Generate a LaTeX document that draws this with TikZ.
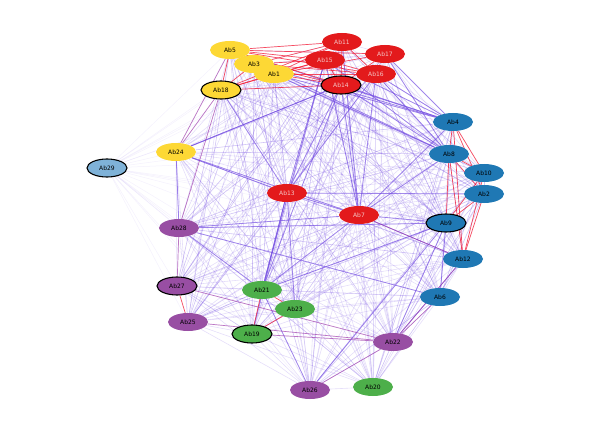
\documentclass[tikz,border=0pt]{standalone}
\usepackage{fontspec}
\setmainfont{DejaVu Sans}
\usetikzlibrary{shapes.geometric,backgrounds}
\definecolor{cyel}{HTML}{FDD835}
\definecolor{cred}{HTML}{E31A1C}
\definecolor{cblu}{HTML}{1F78B4}
\definecolor{cpur}{HTML}{984EA3}
\definecolor{cgrn}{HTML}{4DAF4A}
\definecolor{clbl}{HTML}{7FB2D8}
\definecolor{edgep}{HTML}{7048E0}
\definecolor{edger}{HTML}{FF1020}
\definecolor{edgem}{HTML}{A030A0}
\definecolor{redtxt}{HTML}{F4C6C6}
\tikzset{
  ab/.style={ellipse,minimum width=40pt,minimum height=18pt,inner sep=0pt,
    font=\fontsize{6}{7}\selectfont},
  ny/.style={ab,fill=cyel},
  nr/.style={ab,fill=cred,text=redtxt},
  nb/.style={ab,fill=cblu},
  np/.style={ab,fill=cpur},
  ng/.style={ab,fill=cgrn},
  nl/.style={ab,fill=clbl},
  hl/.style={draw=black,line width=1.1pt},
  faint/.style={draw=edgep,line width=0.6pt,opacity=0.18},
  medium/.style={draw=edgep,line width=0.6pt,opacity=0.32},
  vfaint/.style={draw=edgep,line width=0.5pt,opacity=0.08},
  strong/.style={draw=edgep,line width=0.8pt,opacity=0.6},
  redge/.style={draw=edger,line width=0.7pt,opacity=0.7},
  medge/.style={draw=edgem,line width=0.7pt,opacity=0.6},
}
\begin{document}
\begin{tikzpicture}[x=1pt,y=-1pt]
\useasboundingbox (0,0) rectangle (590,428);
% nodes
\node[ny] (Ab5) at (230,50) {Ab5};
\node[ny] (Ab3) at (254,64) {Ab3};
\node[ny] (Ab1) at (274,74) {Ab1};
\node[ny,hl] (Ab18) at (221,90) {Ab18};
\node[nr] (Ab11) at (342,42) {Ab11};
\node[nr] (Ab17) at (385,54) {Ab17};
\node[nr] (Ab15) at (325,60) {Ab15};
\node[nr] (Ab16) at (376,74) {Ab16};
\node[nr,hl] (Ab14) at (341,85) {Ab14};
\node[nb] (Ab4) at (453,122) {Ab4};
\node[nb] (Ab8) at (449,154) {Ab8};
\node[nb] (Ab10) at (484,173) {Ab10};
\node[nb] (Ab2) at (484,194) {Ab2};
\node[nb,hl] (Ab9) at (446,223) {Ab9};
\node[nb] (Ab12) at (463,259) {Ab12};
\node[nb] (Ab6) at (440,297) {Ab6};
\node[ny] (Ab24) at (176,152) {Ab24};
\node[nl,hl] (Ab29) at (107,168) {Ab29};
\node[nr] (Ab13) at (287,193) {Ab13};
\node[nr] (Ab7) at (359,215) {Ab7};
\node[np] (Ab28) at (179,228) {Ab28};
\node[np,hl] (Ab27) at (177,286) {Ab27};
\node[np] (Ab25) at (188,322) {Ab25};
\node[ng] (Ab21) at (262,290) {Ab21};
\node[ng] (Ab23) at (295,309) {Ab23};
\node[ng,hl] (Ab19) at (252,334) {Ab19};
\node[np] (Ab22) at (393,342) {Ab22};
\node[np] (Ab26) at (310,390) {Ab26};
\node[ng] (Ab20) at (373,387) {Ab20};
\begin{scope}[on background layer]
% all pairs
\foreach \a [count=\i] in {Ab1,Ab2,Ab3,Ab4,Ab5,Ab6,Ab7,Ab8,Ab9,Ab10,Ab11,Ab12,Ab13,Ab14,Ab15,Ab16,Ab17,Ab18,Ab19,Ab20,Ab21,Ab22,Ab23,Ab24,Ab25,Ab26,Ab27,Ab28}{
  \foreach \b [count=\j] in {Ab1,Ab2,Ab3,Ab4,Ab5,Ab6,Ab7,Ab8,Ab9,Ab10,Ab11,Ab12,Ab13,Ab14,Ab15,Ab16,Ab17,Ab18,Ab19,Ab20,Ab21,Ab22,Ab23,Ab24,Ab25,Ab26,Ab27,Ab28}{
    \ifnum\j>\i
      \pgfmathtruncatemacro\r{mod(\i*7+\j*13,4)}
      \ifnum\r=0 \draw[medium] (\a) -- (\b); \else \draw[faint] (\a) -- (\b); \fi
    \fi
  }
}
\foreach \b in {Ab1,Ab3,Ab5,Ab18,Ab24,Ab13,Ab7,Ab28,Ab27,Ab25,Ab21,Ab19,Ab23,Ab9,Ab8,Ab4,Ab14,Ab15,Ab12,Ab22,Ab26,Ab6,Ab11,Ab16,Ab20}{
  \draw[vfaint] (Ab29) -- (\b);
}
% stronger purple edges
\foreach \a/\b in {Ab24/Ab28,Ab24/Ab13,Ab13/Ab21,Ab13/Ab14,Ab13/Ab15,Ab7/Ab15,Ab7/Ab16,
  Ab7/Ab14,Ab7/Ab9,Ab7/Ab4,Ab9/Ab6,Ab9/Ab22,Ab12/Ab22,Ab13/Ab7,Ab28/Ab7,Ab24/Ab7,
  Ab4/Ab5,Ab4/Ab1,Ab4/Ab15,Ab4/Ab14,Ab8/Ab1,Ab8/Ab14,Ab8/Ab16,Ab18/Ab13,Ab14/Ab21,
  Ab21/Ab26,Ab28/Ab21,Ab24/Ab14,Ab8/Ab7,Ab9/Ab26,Ab6/Ab28,Ab16/Ab13,Ab11/Ab7,
  Ab4/Ab3,Ab8/Ab5,Ab17/Ab8,Ab2/Ab13,Ab12/Ab7,Ab28/Ab9,Ab13/Ab23,Ab9/Ab21,Ab14/Ab24,
  Ab13/Ab19,Ab7/Ab21,Ab15/Ab21,Ab4/Ab16,Ab4/Ab17,Ab8/Ab15}{
  \draw[strong] (\a) -- (\b);
}
% magenta edges
\foreach \a/\b in {Ab18/Ab24,Ab28/Ab27,Ab22/Ab6,Ab22/Ab26,Ab19/Ab22,Ab25/Ab22,
  Ab27/Ab22,Ab7/Ab12,Ab18/Ab28,Ab22/Ab12,Ab5/Ab24}{
  \draw[medge] (\a) -- (\b);
}
% red edges
\foreach \a/\b in {Ab5/Ab11,Ab5/Ab15,Ab5/Ab17,Ab5/Ab14,Ab5/Ab16,Ab3/Ab11,Ab3/Ab15,
  Ab3/Ab14,Ab3/Ab16,Ab1/Ab11,Ab1/Ab15,Ab1/Ab14,Ab1/Ab17,Ab18/Ab15,Ab18/Ab11,
  Ab18/Ab14,Ab18/Ab5,Ab18/Ab3,Ab18/Ab1,Ab15/Ab14,Ab11/Ab16,Ab15/Ab16,Ab11/Ab14,
  Ab17/Ab14,Ab1/Ab16,
  Ab8/Ab9,Ab8/Ab12,Ab8/Ab10,Ab8/Ab2,Ab4/Ab10,Ab4/Ab2,Ab10/Ab9,Ab2/Ab9,Ab2/Ab12,
  Ab10/Ab12,Ab4/Ab8,Ab4/Ab12,
  Ab21/Ab19,Ab23/Ab19,Ab21/Ab23,Ab27/Ab25}{
  \draw[redge] (\a) -- (\b);
}
\end{scope}
\end{tikzpicture}
\end{document}
